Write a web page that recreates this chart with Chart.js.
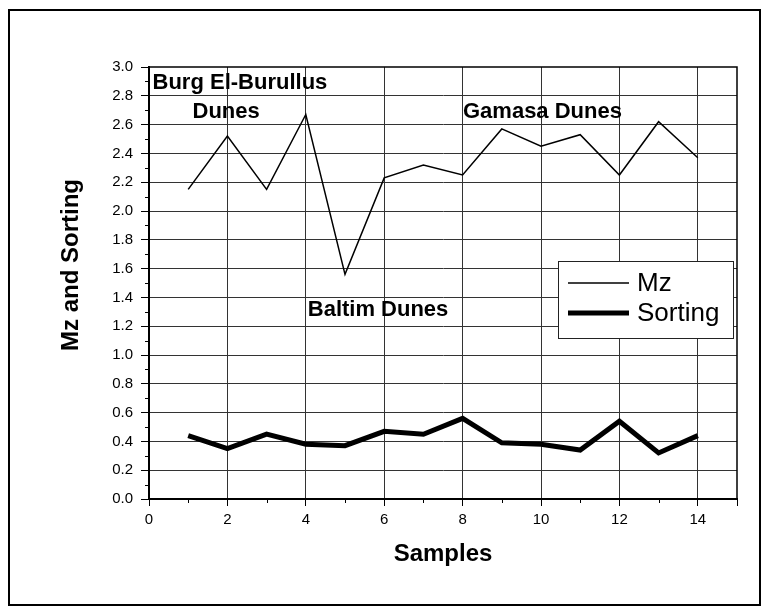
<!DOCTYPE html>
<html>
<head>
<meta charset="utf-8">
<script src="https://cdn.jsdelivr.net/npm/chart.js@4.4.1/dist/chart.umd.min.js"></script>
<style>
  body { margin: 0; background: #fff; }
  #wrap { position: relative; width: 769px; height: 614px; }
  #grafico { position: absolute; left: 0; top: 0; }
  #frame { position: absolute; left: 8px; top: 9px; width: 753px; height: 597px;
           border: 2px solid #000; box-sizing: border-box; pointer-events: none; }
</style>
</head>
<body>
<div id="wrap">
  <canvas id="grafico" width="769" height="614"></canvas>
  <div id="frame"></div>
</div>
<script>
const samples = [1, 2, 3, 4, 5, 6, 7, 8, 9, 10, 11, 12, 13, 14];
const mz = [2.15, 2.52, 2.15, 2.67, 1.56, 2.23, 2.32, 2.25, 2.57, 2.45, 2.53, 2.25, 2.62, 2.37];
const sorting = [0.44, 0.35, 0.45, 0.38, 0.37, 0.47, 0.45, 0.56, 0.39, 0.38, 0.34, 0.54, 0.32, 0.44];
const seriesNames = ['Mz', 'Sorting'];

// text labels placed in data units (left edge, vertical middle)
const notes = [
  { text: 'Burg El-Burullus', x: 0.09, y: 2.89 },
  { text: 'Dunes', x: 1.11, y: 2.69 },
  { text: 'Gamasa Dunes', x: 8.01, y: 2.685 },
  { text: 'Baltim Dunes', x: 4.05, y: 1.31 }
];

const FONT = "'Liberation Sans', Arial, sans-serif";

function points(values) {
  return samples.map((s, i) => ({ x: s, y: values[i] }));
}

// minor ticks, top/right frame, notes, y title and the boxed legend
const extras = {
  id: 'extras',
  afterDatasetsDraw(chart) {
    const ctx = chart.ctx;
    const area = chart.chartArea;
    const xs = chart.scales.x;
    const ys = chart.scales.y;
    ctx.save();

    ctx.strokeStyle = '#000';
    ctx.lineWidth = 1.5;
    ctx.beginPath();
    ctx.moveTo(area.left, area.top);
    ctx.lineTo(area.right, area.top);
    ctx.lineTo(area.right, area.bottom);
    ctx.stroke();

    ctx.lineWidth = 1;
    ctx.beginPath();
    for (let v = 0.1; v < 3; v += 0.2) {
      const py = Math.round(ys.getPixelForValue(v)) + 0.5;
      ctx.moveTo(area.left - 4, py);
      ctx.lineTo(area.left, py);
    }
    for (let v = 1; v < 15; v += 2) {
      const px = Math.round(xs.getPixelForValue(v)) + 0.5;
      ctx.moveTo(px, area.bottom);
      ctx.lineTo(px, area.bottom + 4);
    }
    ctx.stroke();

    ctx.fillStyle = '#000';
    ctx.font = 'bold 22px ' + FONT;
    ctx.textAlign = 'left';
    ctx.textBaseline = 'middle';
    notes.forEach(n => {
      ctx.fillText(n.text, xs.getPixelForValue(n.x), ys.getPixelForValue(n.y));
    });

    ctx.save();
    ctx.translate(71, 265);
    ctx.rotate(-Math.PI / 2);
    ctx.textAlign = 'center';
    ctx.font = 'bold 24px ' + FONT;
    ctx.fillText('Mz and Sorting', 0, 0);
    ctx.restore();

    // legend box
    const bx = area.right - 179, by = area.top + 194, bw = 175, bh = 77;
    ctx.fillStyle = '#fff';
    ctx.fillRect(bx, by, bw, bh);
    ctx.strokeStyle = '#222';
    ctx.lineWidth = 1;
    ctx.strokeRect(bx + 0.5, by + 0.5, bw, bh);
    ctx.font = '26px ' + FONT;
    ctx.textAlign = 'left';
    chart.data.datasets.forEach((ds, i) => {
      const ly = by + 22 + i * 30;
      ctx.strokeStyle = ds.borderColor;
      ctx.lineWidth = ds.borderWidth;
      ctx.beginPath();
      ctx.moveTo(bx + 10, ly);
      ctx.lineTo(bx + 71, ly);
      ctx.stroke();
      ctx.fillStyle = '#000';
      ctx.fillText(ds.label, bx + 79, ly + 1);
    });

    ctx.restore();
  }
};

new Chart(document.getElementById('grafico'), {
  type: 'line',
  data: {
    datasets: [
      {
        label: seriesNames[0],
        data: points(mz),
        borderColor: '#000',
        borderWidth: 1.5,
        pointRadius: 0,
        tension: 0
      },
      {
        label: seriesNames[1],
        data: points(sorting),
        borderColor: '#000',
        borderWidth: 5,
        pointRadius: 0,
        tension: 0
      }
    ]
  },
  options: {
    responsive: false,
    animation: false,
    layout: { padding: { left: 0, top: 67, right: 32, bottom: 0 } },
    plugins: {
      legend: { display: false },
      tooltip: { enabled: false }
    },
    scales: {
      x: {
        type: 'linear',
        min: 0,
        max: 15,
        afterFit: s => { s.height = 115; },
        ticks: {
          stepSize: 1,
          autoSkip: false,
          maxRotation: 0,
          padding: 5,
          color: '#000',
          font: { family: FONT, size: 15 },
          callback: v => (v % 2 === 0 && v < 15) ? v : ''
        },
        grid: {
          color: c => (c.tick && c.tick.value % 2 === 0 && c.tick.value > 0 && c.tick.value < 15) ? '#333' : 'rgba(0,0,0,0)',
          tickColor: c => (c.tick && (c.tick.value % 2 === 0 || c.tick.value === 15)) ? '#000' : 'rgba(0,0,0,0)',
          tickLength: 7,
          lineWidth: 1
        },
        border: { color: '#000', width: 2 },
        title: {
          display: true,
          text: 'Samples',
          color: '#000',
          font: { family: FONT, size: 24, weight: 'bold' },
          padding: { top: 0, bottom: 45 }
        }
      },
      y: {
        min: 0,
        max: 3,
        afterFit: s => { s.width = 149; },
        ticks: {
          stepSize: 0.2,
          padding: 8,
          color: '#000',
          font: { family: FONT, size: 15 },
          callback: v => v.toFixed(1)
        },
        grid: {
          color: c => (c.tick && c.tick.value > 0.01 && c.tick.value < 2.99) ? '#333' : 'rgba(0,0,0,0)',
          tickColor: '#000',
          tickLength: 8,
          lineWidth: 1
        },
        border: { color: '#000', width: 2 }
      }
    }
  },
  plugins: [extras]
});
</script>
</body>
</html>
